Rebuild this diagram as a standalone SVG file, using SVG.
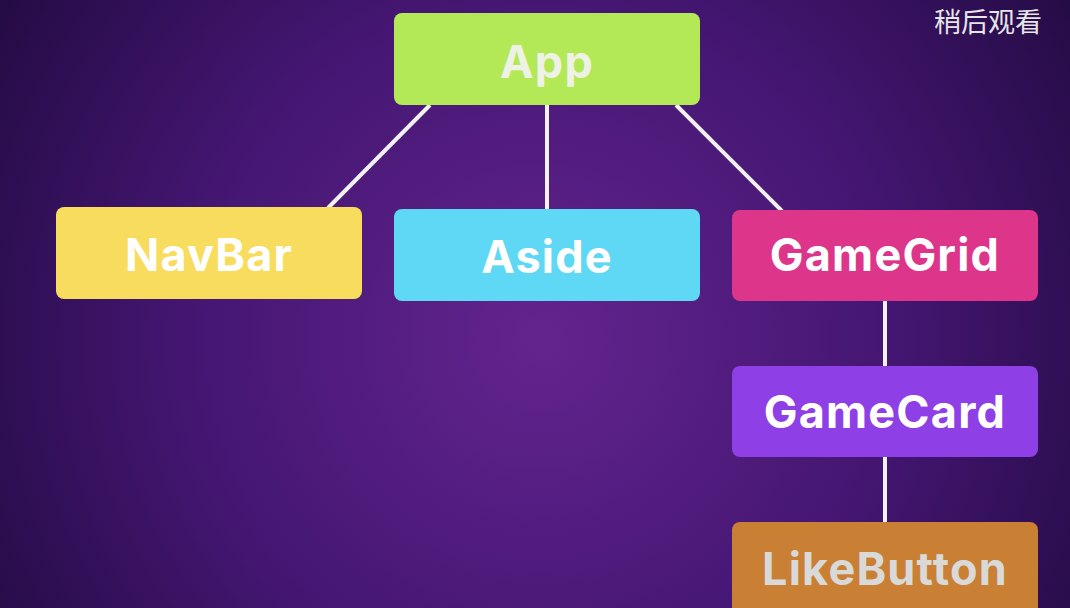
<svg xmlns="http://www.w3.org/2000/svg" width="1070" height="608" viewBox="0 0 1070 608">
<defs>
<radialGradient id="bg" cx="540" cy="340" r="640" gradientUnits="userSpaceOnUse">
<stop offset="0" stop-color="#63248e"/>
<stop offset="0.55" stop-color="#441672"/>
<stop offset="1" stop-color="#240b44"/>
</radialGradient>
</defs>
<style>
.lbl{font-family:"Inter","Noto Sans","Liberation Sans",sans-serif;font-weight:700;font-size:45px;letter-spacing:1.2px;text-anchor:middle;dominant-baseline:central;fill:#ffffff}
.ln{stroke:#f2f2f2;stroke-width:4;fill:none}
</style>
<rect x="0" y="0" width="1070" height="608" fill="url(#bg)"/>
<text x="988" y="32" style="font-family:'Noto Sans CJK SC','Noto Sans',sans-serif;font-size:27px;fill:#e6e6e6;text-anchor:middle">稍后观看</text>
<g id="connectors">
<line class="ln" x1="430" y1="105" x2="328" y2="208"/>
<line class="ln" x1="547" y1="105" x2="547" y2="210"/>
<line class="ln" x1="676" y1="105" x2="782" y2="211"/>
<line class="ln" x1="885" y1="301" x2="885" y2="367"/>
<line class="ln" x1="885" y1="457" x2="885" y2="523"/>
</g>
<g id="app">
<rect x="394" y="13" width="306" height="92" rx="8" fill="#b3e957"/>
<text class="lbl" x="547" y="61" style="fill:#eef2e6">App</text>
</g>
<g id="navbar">
<rect x="56" y="207" width="306" height="92" rx="8" fill="#f7dc5d"/>
<text class="lbl" x="209" y="254">NavBar</text>
</g>
<g id="aside">
<rect x="394" y="209" width="306" height="92" rx="8" fill="#5fd8f6"/>
<text class="lbl" x="547" y="256">Aside</text>
</g>
<g id="gamegrid">
<rect x="732" y="210" width="306" height="91" rx="8" fill="#dc358a"/>
<text class="lbl" x="885" y="254">GameGrid</text>
</g>
<g id="gamecard">
<rect x="732" y="366" width="306" height="91" rx="8" fill="#8e3fe6"/>
<text class="lbl" x="885" y="411">GameCard</text>
</g>
<g id="likebutton">
<rect x="732" y="522" width="306" height="100" rx="8" fill="#c98034"/>
<text class="lbl" x="885" y="568" style="fill:#d9d9d9">LikeButton</text>
</g>
</svg>
